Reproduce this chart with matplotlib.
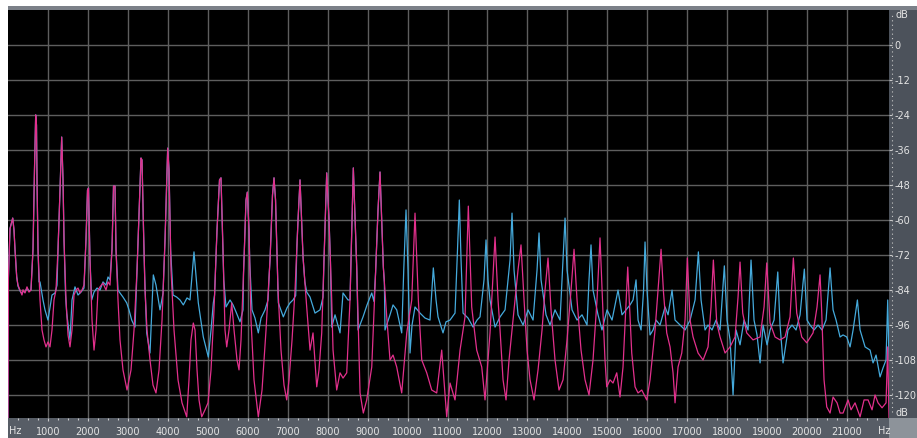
import matplotlib
matplotlib.use("Agg")
import matplotlib.pyplot as plt
from matplotlib.patches import Rectangle
from matplotlib.lines import Line2D

# spectrum of the two channels: frequency (Hz) / level (dB)
pink_hz = [0, 10, 50, 118, 150, 175, 218, 250, 300, 350, 375, 425, 475, 525, 575,
           626, 663, 693, 713, 726, 751, 801, 851, 901, 951, 1001, 1051, 1101, 1151, 1201,
           1252, 1302, 1344, 1377, 1402, 1452, 1502, 1552, 1602, 1652, 1702, 1752, 1802, 1852, 1902,
           1952, 1990, 2015, 2052, 2103, 2153, 2203, 2253, 2303, 2378, 2453, 2503, 2553, 2603, 2641,
           2678, 2703, 2753, 2803, 2878, 2979, 3079, 3154, 3229, 3291, 3329, 3354, 3392, 3429, 3479,
           3554, 3629, 3704, 3780, 3855, 3930, 3980, 3997, 4030, 4080, 4155, 4255, 4355, 4473, 4530,
           4580, 4638, 4681, 4731, 4781, 4848, 4931, 5006, 5081, 5156, 5231, 5294, 5331, 5381, 5431,
           5474, 5532, 5599, 5657, 5732, 5782, 5832, 5907, 5957, 5990, 6032, 6082, 6157, 6265, 6358,
           6458, 6558, 6620, 6658, 6696, 6758, 6833, 6908, 6976, 7034, 7109, 7184, 7259, 7309, 7384,
           7476, 7559, 7634, 7727, 7784, 7852, 7909, 7977, 8035, 8102, 8135, 8227, 8310, 8385, 8478,
           8560, 8643, 8728, 8811, 8893, 8978, 9104, 9186, 9261, 9311, 9394, 9479, 9561, 9637, 9729,
           9854, 9980, 10105, 10187, 10270, 10355, 10480, 10605, 10730, 10855, 10980, 11063, 11188, 11314, 11439,
           11521, 11606, 11731, 11857, 11939, 12064, 12190, 12265, 12315, 12390, 12465, 12540, 12615, 12690, 12765,
           12840, 12916, 12991, 13066, 13166, 13266, 13366, 13441, 13516, 13591, 13691, 13791, 13892, 13992, 14092,
           14167, 14242, 14342, 14442, 14542, 14642, 14742, 14817, 14892, 14942, 14985, 15068, 15143, 15236, 15318,
           15393, 15511, 15611, 15694, 15769, 15862, 15987, 16069, 16195, 16270, 16345, 16407, 16487, 16570, 16645,
           16695, 16770, 16863, 16946, 17003, 17071, 17146, 17271, 17396, 17521, 17596, 17654, 17739, 17822, 17947,
           18072, 18197, 18272, 18322, 18389, 18489, 18647, 18823, 18923, 18990, 19073, 19198, 19323, 19448, 19573,
           19656, 19741, 19866, 19991, 20149, 20249, 20324, 20367, 20424, 20492, 20575, 20650, 20750, 20825, 20900,
           21025, 21100, 21200, 21326, 21426, 21526, 21626, 21701, 21776, 21876, 21976, 22018, 22050]
pink_db = [-128, -80, -63, -59.4, -63.5, -70.1, -79.6, -82.4, -84.1, -85.8, -84, -85.1, -83, -84.8, -84.1,
           -70.1, -42.9, -24.0, -27.5, -46.3, -70.1, -87.5, -97.8, -101.2, -103.6, -101.9, -103.6, -97.8, -87.5, -84.1,
           -70.1, -49.8, -31.6, -46.3, -66.9, -87.5, -99.5, -103.6, -97.8, -85.8, -84.1, -83.4, -85.1, -84.1, -82.4,
           -66.9, -49.8, -49.1, -73.8, -94.4, -104.7, -97.8, -84.1, -83.0, -81.7, -84.1, -81.3, -82.4, -70.1, -48.4,
           -48.4, -70.1, -87.5, -101.2, -111.5, -118.4, -111.5, -97.8, -77.2, -53.2, -38.8, -39.5, -63.5, -84.1, -97.8,
           -108.1, -116.7, -119.4, -111.5, -94.4, -66.9, -42.9, -35.4, -42.9, -77.2, -97.8, -114.9, -122.8, -127.6, -114.9,
           -101.2, -95.4, -97.8, -111.5, -121.8, -127.6, -125.2, -122.8, -111.5, -90.9, -63.5, -46.3, -45.6, -70.1, -97.8,
           -103.6, -97.8, -88.5, -97.8, -108.1, -111.5, -101.2, -73.8, -53.2, -50.5, -63.5, -94.4, -114.9, -127.6, -118.4,
           -97.8, -73.8, -51.5, -45.6, -53.2, -84.1, -104.7, -116.7, -121.8, -114.9, -101.2, -84.1, -60.1, -46.3, -72.7,
           -89.9, -104.7, -98.8, -117.3, -111.5, -98.8, -73.8, -43.9, -60.1, -87.5, -104.7, -118.4, -112.5, -114.3, -112.5,
           -87.5, -42.2, -76.2, -119.4, -126.3, -121.8, -110.5, -83.0, -56.6, -43.6, -76.2, -93.3, -108.1, -106.4, -110.5,
           -119.4, -98.8, -87.5, -57.7, -87.5, -108.1, -112.5, -118.4, -119.4, -104.7, -127.6, -116.0, -121.8, -104.7, -93.3,
           -55.3, -89.9, -104.7, -110.5, -121.8, -98.8, -65.9, -87.5, -97.8, -114.9, -121.8, -108.1, -97.8, -87.5, -77.2,
           -68.6, -87.5, -104.7, -114.9, -121.8, -111.5, -97.8, -84.1, -73.1, -90.9, -108.1, -118.4, -114.9, -101.2, -84.1,
           -70.1, -87.5, -104.7, -114.9, -120.1, -108.1, -87.5, -66.2, -92.0, -108.1, -117.3, -114.9, -116.0, -112.5, -120.8,
           -110.5, -76.2, -105.7, -117.3, -119.4, -118.4, -121.8, -114.9, -97.8, -84.1, -70.1, -85.1, -98.8, -103.6, -112.5,
           -122.8, -110.5, -105.7, -94.4, -73.1, -94.4, -100.2, -105.7, -108.1, -103.6, -89.9, -73.8, -95.4, -100.2, -105.7,
           -103.6, -100.2, -86.5, -74.5, -92.0, -98.8, -101.2, -100.2, -89.9, -74.8, -95.4, -100.2, -101.2, -100.2, -93.3,
           -73.1, -92.0, -100.2, -102.2, -98.8, -89.9, -78.9, -92.0, -114.9, -124.2, -126.3, -120.8, -122.8, -126.3, -126.3,
           -121.8, -125.2, -122.8, -127.6, -121.8, -121.8, -125.2, -120.1, -122.8, -124.5, -122.8, -103.6, -128]

blue_hz = [0, 10, 50, 118, 150, 175, 218, 250, 300, 350, 375, 425, 475, 525, 575,
           626, 663, 693, 713, 726, 751, 776, 801, 876, 926, 1001, 1051, 1101, 1177, 1227,
           1252, 1302, 1344, 1377, 1402, 1440, 1469, 1552, 1602, 1677, 1752, 1827, 1902, 1952, 1990,
           2015, 2052, 2095, 2153, 2228, 2303, 2378, 2453, 2503, 2553, 2603, 2641, 2678, 2703, 2753,
           2803, 2878, 2971, 3029, 3096, 3179, 3240, 3291, 3329, 3354, 3392, 3420, 3471, 3554, 3637,
           3704, 3804, 3880, 3930, 3980, 3997, 4030, 4070, 4130, 4222, 4305, 4388, 4480, 4555, 4655,
           4763, 4888, 5014, 5081, 5139, 5170, 5231, 5294, 5331, 5381, 5400, 5456, 5557, 5632, 5707,
           5807, 5882, 5895, 5907, 5957, 5990, 6032, 6050, 6107, 6182, 6265, 6333, 6433, 6508, 6540,
           6558, 6620, 6658, 6696, 6740, 6766, 6891, 6983, 7059, 7134, 7200, 7230, 7259, 7309, 7384,
           7430, 7476, 7559, 7684, 7809, 7885, 7909, 7977, 8035, 8070, 8102, 8185, 8310, 8385, 8510,
           8560, 8643, 8700, 8728, 8761, 8886, 8986, 9104, 9160, 9200, 9261, 9311, 9394, 9420, 9436,
           9561, 9637, 9729, 9854, 9905, 9962, 10012, 10062, 10112, 10187, 10312, 10437, 10562, 10645, 10713,
           10763, 10888, 10963, 11063, 11188, 11251, 11296, 11339, 11389, 11514, 11639, 11739, 11814, 11914, 11964,
           12014, 12064, 12190, 12315, 12440, 12565, 12615, 12665, 12765, 12891, 13016, 13141, 13241, 13291, 13341,
           13466, 13566, 13691, 13817, 13892, 13942, 13992, 14117, 14242, 14367, 14492, 14542, 14592, 14642, 14767,
           14867, 14993, 15118, 15268, 15368, 15468, 15568, 15644, 15719, 15769, 15844, 15907, 15944, 15994, 16069,
           16145, 16220, 16320, 16445, 16520, 16620, 16695, 16820, 16946, 17071, 17196, 17279, 17346, 17446, 17521,
           17621, 17721, 17822, 17929, 17997, 18072, 18147, 18222, 18322, 18422, 18522, 18597, 18672, 18747, 18823,
           18898, 18998, 19073, 19173, 19266, 19323, 19398, 19523, 19623, 19723, 19824, 19931, 19999, 20074, 20174,
           20274, 20374, 20474, 20575, 20650, 20725, 20825, 20900, 20993, 21076, 21151, 21259, 21326, 21451, 21576,
           21651, 21726, 21826, 21901, 21976, 22018, 22050]
blue_db = [-128, -80, -63, -59.4, -63.5, -70.1, -79.6, -82.7, -84.4, -85.4, -84.5, -84.8, -83.4, -84.4, -84.1,
           -70.1, -42.9, -24.0, -27.5, -46.3, -70.1, -81.3, -81.3, -87.5, -90.9, -94.4, -90.2, -85.8, -85.1, -82.4,
           -70.1, -49.8, -31.6, -46.3, -66.9, -85.8, -92.0, -101.2, -87.5, -83.0, -85.8, -84.8, -83.4, -66.9, -49.8,
           -49.1, -73.8, -87.5, -84.8, -83.4, -84.1, -81.3, -82.4, -79.6, -80.6, -70.1, -48.4, -48.4, -70.1, -84.1,
           -85.1, -86.5, -88.5, -90.9, -94.4, -96.8, -73.0, -53.2, -38.8, -39.5, -63.5, -79.1, -98.8, -105.7, -78.9,
           -82.4, -90.9, -85.2, -66.9, -42.9, -35.4, -42.9, -70.3, -85.8, -86.5, -87.5, -89.2, -86.8, -87.5, -71.0,
           -88.5, -100.2, -107.1, -97.8, -88.5, -85.8, -63.5, -46.3, -45.6, -70.1, -80.6, -89.9, -87.5, -89.2, -91.6,
           -95.0, -90.9, -78.2, -73.8, -53.2, -50.5, -63.5, -74.6, -90.9, -93.7, -98.8, -93.7, -90.9, -87.5, -78.1,
           -73.8, -51.5, -45.6, -53.2, -75.1, -88.5, -93.3, -90.2, -88.5, -87.5, -86.0, -69.4, -60.1, -46.3, -72.7,
           -81.3, -84.8, -86.5, -92.0, -90.9, -86.5, -73.8, -43.9, -60.1, -74.4, -96.8, -92.6, -98.8, -85.1, -87.5,
           -87.5, -42.2, -65.0, -76.2, -97.8, -93.3, -89.2, -85.1, -88.0, -78.1, -56.6, -43.6, -76.2, -81.4, -97.8,
           -92.6, -89.2, -90.9, -98.8, -77.2, -56.6, -77.2, -105.7, -96.1, -89.9, -92.0, -93.7, -94.4, -76.5, -87.5,
           -93.3, -98.8, -95.0, -94.4, -92.0, -70.1, -53.2, -73.8, -92.0, -93.7, -96.8, -94.4, -93.3, -80.6, -66.9,
           -80.6, -87.5, -96.8, -93.3, -90.9, -73.8, -57.7, -77.2, -92.6, -96.1, -90.9, -94.4, -77.2, -64.5, -80.6,
           -92.6, -96.1, -90.9, -94.4, -73.8, -59.4, -77.2, -90.9, -94.4, -92.6, -96.1, -80.6, -68.6, -84.1, -92.6,
           -97.8, -90.9, -94.4, -84.1, -92.6, -90.9, -89.2, -87.5, -80.6, -94.4, -97.8, -84.1, -67.6, -84.1, -99.5,
           -97.8, -94.4, -96.1, -89.9, -92.6, -84.1, -94.4, -96.1, -97.8, -94.4, -87.5, -71.0, -87.5, -97.8, -96.1,
           -97.8, -94.4, -97.8, -75.8, -94.4, -101.2, -120.1, -97.8, -102.9, -94.4, -97.8, -73.8, -94.4, -99.5, -109.1,
           -96.1, -102.9, -97.8, -94.4, -77.9, -96.1, -109.1, -97.8, -96.1, -97.8, -92.6, -76.9, -94.4, -96.1, -97.8,
           -96.1, -97.8, -94.4, -76.5, -90.9, -94.4, -100.2, -99.5, -100.2, -103.6, -97.8, -87.5, -97.8, -103.6, -104.7,
           -109.1, -106.4, -113.9, -110.8, -108.1, -87.5, -108.1]

db_ticks = [0, -12, -24, -36, -48, -60, -72, -84, -96, -108, -120]
hz_ticks = list(range(1000, 22000, 1000))

W, H = 917, 438
fig = plt.figure(figsize=(W / 100, H / 100), dpi=100)
fig.patch.set_facecolor("white")

def px(x0, y0, x1, y1):
    # pixel box -> figure fraction rectangle
    return (x0 / W, 1 - y1 / H, (x1 - x0) / W, (y1 - y0) / H)

# frame around the plot area (kept below the axes and its tick labels)
for box, col in [(px(8, 6, W, 10), "#7b8088"),
                 (px(889, 10, W, 418), "#4c525b"),
                 (px(8, 418, 889, H), "#575d66"),
                 (px(889, 418, W, H), "#8d939a")]:
    x, y, w, h = box
    fig.patches.append(Rectangle((x, y), w, h, transform=fig.transFigure,
                                 facecolor=col, edgecolor="none", zorder=-5))

ax = fig.add_axes(px(8, 10, 889, 418))
ax.set_facecolor("black")
ax.plot(blue_hz, blue_db, color="#45aadc", lw=0.9, zorder=3)
ax.plot(pink_hz, pink_db, color="#e2308c", lw=0.9, zorder=4)
ax.set_xlim(0, 22050)
ax.set_ylim(-128, 12)

for s in ax.spines.values():
    s.set_visible(False)

ax.set_xticks(hz_ticks)
ax.set_xticklabels([str(t) for t in hz_ticks])
ax.set_xticks([f for f in range(250, 22050, 250) if f % 1000], minor=True)
ax.set_yticks(db_ticks)
ax.set_yticklabels([str(t) for t in db_ticks])
ax.yaxis.tick_right()
ax.grid(True, color="#5e5e5e", lw=1.0)
ax.set_axisbelow(True)

font = ["Liberation Sans Narrow", "DejaVu Sans"]
ax.tick_params(axis="x", which="major", direction="out", length=2.5, width=0.8,
               color="#c8c8c8", labelcolor="#e4e4e4", labelsize=7, pad=4)
ax.tick_params(axis="x", which="minor", direction="out", length=1.5, width=0.8,
               color="#c8c8c8")
ax.tick_params(axis="y", direction="out", length=2.5, width=0.8,
               color="#c8c8c8", labelcolor="#e4e4e4", labelsize=7, pad=1.5)
for lab in ax.get_xticklabels() + ax.get_yticklabels():
    lab.set_family(font)

# dotted scale line of the level axis
fig.add_artist(Line2D([891.5 / W, 891.5 / W], [1 - 412 / H, 1 - 12 / H],
                      transform=fig.transFigure, color="#c8c8c8", lw=0.8,
                      linestyle=(0, (1, 3))))

def label(x, y, s, ha="left"):
    fig.text(x / W, 1 - y / H, s, ha=ha, va="center", color="#e4e4e4",
             fontsize=7, family=font)

label(895, 15, "dB")
label(895, 413, "dB")
label(9, 431, "Hz")
label(878, 431, "Hz")

fig.savefig("out.png", dpi=100)
